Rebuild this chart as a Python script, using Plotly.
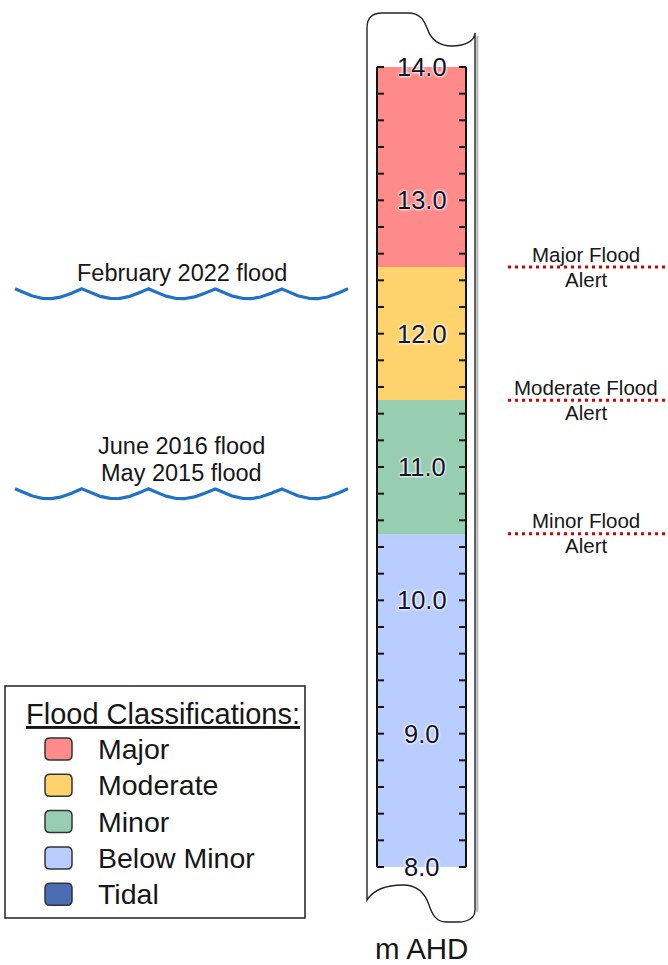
import numpy as np
import plotly.graph_objects as go

# ---------------- data ----------------
class_names = ["Major", "Moderate", "Minor", "Below Minor"]
class_lower = [12.5, 11.5, 10.5, 8.0]
class_upper = [14.0, 12.5, 11.5, 10.5]
class_colors = ["#FF8A8A", "#FFD36B", "#97CDB0", "#B9CDFF"]

legend_title = "Flood Classifications:"
legend_names = ["Major", "Moderate", "Minor", "Below Minor", "Tidal"]
legend_colors = ["#FF8A8A", "#FFD36B", "#97CDB0", "#B9CDFF", "#4A6EB4"]

alert_names = ["Major Flood", "Moderate Flood", "Minor Flood"]
alert_levels = [12.5, 11.5, 10.5]

flood_names = ["February 2022 flood", "June 2016 flood", "May 2015 flood"]
flood_levels = [12.3, 10.8, 10.8]

tick_values = [8.0, 9.0, 10.0, 11.0, 12.0, 13.0, 14.0]
tick_labels = ["8.0", "9.0", "10.0", "11.0", "12.0", "13.0", "14.0"]
minor_tick_step = 0.2
axis_title = "m AHD"

# ---------------- layout geometry (pixels) ----------------
W, H = 668, 965
Y_TOP_PX, Y_BOT_PX = 67, 867
V_TOP, V_BOT = max(tick_values), min(tick_values)
SCALE = (Y_BOT_PX - Y_TOP_PX) / (V_TOP - V_BOT)
Y_RANGE = [V_BOT - (H - Y_BOT_PX) / SCALE, V_TOP + Y_TOP_PX / SCALE]

GX0, GX1 = 377, 466
GX = (GX0 + GX1) / 2
TICK_LEN = 7
FONT = "Liberation Sans, Arial, sans-serif"
TXT = "#161616"

fig = go.Figure()

# gauge bands
fig.add_trace(go.Bar(
    x=[GX] * len(class_names), base=class_lower,
    y=[u - l for u, l in zip(class_upper, class_lower)],
    width=GX1 - GX0, marker=dict(color=class_colors, line=dict(width=0)),
    name="", showlegend=False, hoverinfo="skip"))

# ticks every 0.2 m on both edges
n_ticks = int(round((V_TOP - V_BOT) / minor_tick_step)) + 1
tvals = [V_BOT + i * minor_tick_step for i in range(n_ticks)]
tx, ty = [], []
for v in tvals:
    tx += [GX0, GX0 + TICK_LEN, None, GX1, GX1 - TICK_LEN, None]
    ty += [v, v, None, v, v, None]
tx += [GX0, GX0, None, GX1, GX1, None]
ty += [V_BOT, V_TOP, None, V_BOT, V_TOP, None]
fig.add_trace(go.Scatter(x=tx, y=ty, mode="lines",
                         line=dict(color="#111111", width=2),
                         showlegend=False, hoverinfo="skip"))

# alert lines
AX0, AX1, AXC = 508, 666, 586
for name, lev in zip(alert_names, alert_levels):
    fig.add_trace(go.Scatter(x=[AX0, AX1], y=[lev, lev], mode="lines",
                             line=dict(color="#D00000", width=3, dash="3px,4px"),
                             showlegend=False, hoverinfo="skip"))
    fig.add_annotation(x=AXC, y=lev, xref="x", yref="y", text=name,
                       showarrow=False, yshift=13,
                       font=dict(family=FONT, size=20.5, color=TXT))
    fig.add_annotation(x=AXC, y=lev, xref="x", yref="y", text="Alert",
                       showarrow=False, yshift=-12,
                       font=dict(family=FONT, size=20.5, color=TXT))

# historic flood waves (wavy level marker)
WX0, WX1, N_ARCH = 15, 348, 5
AMP = 5 / SCALE
wx = np.linspace(WX0, WX1, 400)
phase = np.abs(np.sin(np.pi * (wx - WX0) / ((WX1 - WX0) / N_ARCH)))
done = {}
for name, lev in zip(flood_names, flood_levels):
    done.setdefault(lev, []).append(name)
for lev, names in done.items():
    fig.add_trace(go.Scatter(x=wx, y=lev + AMP * (1 - 2 * phase), mode="lines",
                             line=dict(color="#1F72C4", width=3.2),
                             showlegend=False, hoverinfo="skip"))
    for k, nm in enumerate(reversed(names)):
        fig.add_annotation(x=(WX0 + WX1) / 2, y=lev, xref="x", yref="y", text=nm,
                           showarrow=False, yshift=21 + 27 * k,
                           font=dict(family=FONT, size=23.5, color=TXT))

# tick labels with white halo
for v, lab in zip(tick_values, tick_labels):
    fig.add_annotation(x=GX, y=v, xref="x", yref="y", text=lab, showarrow=False,
                       font=dict(family=FONT, size=25.5, color="#101028",
                                 shadow="0px 0px 3px white, 0px 0px 3px white, 0px 0px 2px white"))

# axis title
fig.add_annotation(x=GX, y=948, xref="x", yref="y2", text=axis_title,
                   showarrow=False, font=dict(family=FONT, size=29.5, color=TXT))

# gauge board outline (pixel coords)
board = ("M 367,900 L 367,28 C 367,18 372,13 382,13 L 408,13 "
         "C 420,13 424,20 427,28 C 431,40 440,46 452,46 "
         "C 466,46 475,40 475,33 L 475,910 C 475,918 468,922 458,922 "
         "L 446,922 C 436,922 432,914 429,905 C 424,890 414,885 403,885 "
         "C 388,885 374,889 367,900 Z")
fig.add_shape(type="path", path="M 477.3,36 L 477.3,912", xref="x", yref="y2",
              line=dict(color="#B8B8B8", width=2.2), layer="below")
fig.add_shape(type="path", path=board, xref="x", yref="y2",
              line=dict(color="#222222", width=1.4), fillcolor="white", layer="below")

# legend box (pixel coords)
fig.add_shape(type="rect", x0=5, y0=686, x1=305, y1=918, xref="x", yref="y2",
              line=dict(color="#222222", width=1.5), fillcolor="white")
fig.add_annotation(x=24, y=714, xref="x", yref="y2", xanchor="left", text=legend_title,
                   showarrow=False,
                   font=dict(family=FONT, size=29, color=TXT, lineposition="under"))


def rrect(x0, y0, x1, y1, r):
    return (f"M {x0+r},{y0} L {x1-r},{y0} Q {x1},{y0} {x1},{y0+r} "
            f"L {x1},{y1-r} Q {x1},{y1} {x1-r},{y1} L {x0+r},{y1} "
            f"Q {x0},{y1} {x0},{y1-r} L {x0},{y0+r} Q {x0},{y0} {x0+r},{y0} Z")


ROW0, ROW_STEP = 749, 36.3
for i, (nm, col) in enumerate(zip(legend_names, legend_colors)):
    cy = ROW0 + i * ROW_STEP
    fig.add_shape(type="path", path=rrect(45, cy - 11, 72, cy + 11, 5), xref="x", yref="y2",
                  line=dict(color="#333333", width=1.5), fillcolor=col)
    fig.add_annotation(x=96, y=cy, xref="x", yref="y2", xanchor="left", text=nm,
                       showarrow=False, font=dict(family=FONT, size=28.5, color=TXT))

fig.update_layout(
    width=W, height=H, autosize=False,
    margin=dict(l=0, r=0, t=0, b=0, pad=0),
    paper_bgcolor="white", plot_bgcolor="white",
    xaxis=dict(range=[0, W], visible=False, fixedrange=True),
    yaxis=dict(range=Y_RANGE, visible=False, fixedrange=True),
    yaxis2=dict(range=[H, 0], visible=False, overlaying="y", anchor="x", fixedrange=True),
    showlegend=False, bargap=0,
)

fig.write_html("out.html", config={"displayModeBar": False, "staticPlot": True},
               post_script="document.body.style.margin='0';document.body.style.overflow='hidden';")
